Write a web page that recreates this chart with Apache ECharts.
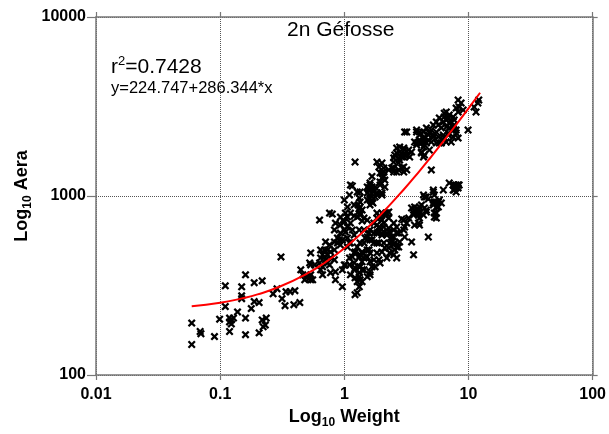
<!DOCTYPE html>
<html><head><meta charset="utf-8">
<script src="https://cdn.jsdelivr.net/npm/echarts@6/dist/echarts.min.js"></script>
<style>html,body{margin:0;padding:0;background:#fff}#c{width:609px;height:434px}</style>
</head><body><div id="c"></div>
<script>
// [weight, area] pairs
const leftTail = [[0.059,195],[0.059,148],[0.069,175],[0.070,170],[0.090,164],[0.099,205],[0.110,315],[0.110,241],[0.119,208],[0.123,203],[0.128,208],[0.119,198],[0.123,193],[0.119,175],[0.138,225],[0.149,311],[0.149,277],[0.149,267],[0.160,363],[0.160,208],[0.160,168],[0.178,235],[0.188,328],[0.218,336],[0.188,257],[0.206,254],[0.218,203],[0.231,190],[0.222,186],[0.235,208],[0.206,172],[0.267,284],[0.287,303],[0.309,457],[0.315,267],[0.333,244],[0.339,292],[0.365,292],[0.400,296],[0.392,247],[0.438,254],[0.446,387],[0.463,363],[0.480,340],[0.498,354],[0.536,363],[0.536,340],[0.536,481],[0.536,412],[0.577,412],[0.644,451],[0.668,402],[0.668,363],[0.760,412],[0.774,372],[0.848,340],[0.964,311],[1.00,412],[0.526,423],[0.632,423],[0.644,387],[0.526,349],[0.556,340]];
const midCluster = [[0.632,734],[0.848,706],[0.929,688],[1.00,716],[1.06,671],[1.12,706],[1.16,646],[1.02,629],[0.929,621],[0.880,583],[0.964,568],[1.06,583],[1.10,547],[0.929,533],[0.880,547],[0.832,554],[0.706,554],[0.760,533],[0.693,500],[0.644,500],[0.732,500],[0.774,487],[0.832,500],[0.668,469],[0.693,457],[0.706,440],[0.732,469],[0.774,451],[0.832,440],[1.22,281],[1.34,340],[1.27,332],[1.32,372],[1.39,387],[1.32,402],[1.39,429],[1.32,457],[1.39,481],[1.22,487],[1.16,457],[1.10,451],[1.20,423],[1.10,412],[1.20,387],[1.12,363],[1.22,349]];
const lowerBand = [[1.12,1152],[1.16,1137],[1.27,1053],[1.53,1123],[1.61,1152],[1.70,1080],[1.83,1013],[1.61,1013],[2.01,1040],[1.10,1013],[1.20,891],[1.34,926],[1.34,868],[1.29,891],[1.70,914],[0.80,793],[1.02,803],[1.06,763],[0.98,734],[1.20,773],[1.34,803],[1.44,753],[1.53,734],[1.83,803],[1.83,753],[2.01,803],[2.16,803],[2.01,734],[2.28,753],[1.73,706],[1.90,671],[2.08,706],[2.28,662],[1.83,621],[2.01,605],[2.20,621],[2.41,590],[2.50,646],[2.50,706],[2.64,671],[2.74,621],[2.32,547],[2.50,533],[2.64,519],[2.79,554],[2.55,500],[3.01,646],[3.06,590],[3.18,706],[2.90,744],[3.30,753],[3.48,857],[3.61,803],[3.82,814],[4.03,868],[3.68,868],[3.96,783],[4.42,987],[5.21,1053],[5.51,926],[5.82,950],[5.21,914],[5.72,868],[5.51,803],[5.51,753],[6.04,914],[4.58,835],[4.34,783],[6.27,1080],[7.00,1182],[7.67,1152],[7.95,1109],[8.25,1152],[7.53,1080],[4.75,590],[3.48,554],[3.61,469],[0.732,423],[0.848,377],[0.964,387],[1.02,412],[1.22,397],[1.32,354],[1.44,387],[1.53,457],[1.67,402],[1.90,440],[1.94,423],[1.61,363],[1.53,500],[0.832,646],[0.91,568],[1.00,646],[1.12,547],[1.20,605],[1.32,646],[1.44,646],[1.47,583],[1.61,568],[1.58,621],[1.73,547],[2.12,513],[2.01,487],[1.83,547],[1.34,547],[1.06,519],[1.20,481],[1.34,469],[1.61,481],[1.73,440],[0.76,803]];
const lowerBand2 = [[1.67,926],[1.61,891],[1.34,783],[2.20,803],[1.94,763],[3.68,835],[3.96,803],[3.61,783],[4.03,753],[3.96,706],[3.68,688],[4.18,891],[3.01,734],[3.06,671],[1.83,688],[1.94,662],[2.08,671],[1.90,629],[1.61,646],[1.73,621],[2.01,621],[2.20,605],[2.32,629],[2.50,590],[2.64,621],[2.41,554],[2.55,547],[2.74,519],[2.28,513],[2.32,481],[2.50,469],[2.20,451],[2.64,451],[2.08,547],[1.90,547],[1.67,568],[1.53,590],[1.44,547],[1.58,500],[1.83,481],[1.61,429],[1.77,402],[1.61,377],[1.53,354],[1.39,332],[1.32,311],[1.34,402],[1.44,451],[1.39,487],[1.27,519],[1.27,288],[7.53,1152],[7.95,1152],[8.25,1109],[7.67,1080],[7.95,1053],[8.41,1152],[5.31,1013],[4.34,1013],[4.58,987],[5.31,926],[5.72,926],[5.21,891],[5.51,868],[3.96,835],[4.03,803],[4.42,857],[4.58,814],[5.31,803],[5.31,763],[4.03,688],[5.02,1398],[1.00,950],[1.31,848],[1.39,835],[1.06,868],[1.12,803],[1.27,763],[0.93,763],[1.39,725],[2.28,814],[2.12,783],[5.21,1080],[4.75,962]];
const upperBand = [[3.06,2278],[3.82,2278],[4.03,2055],[4.34,2003],[3.82,1977],[4.34,1878],[4.42,2136],[4.03,2192],[2.79,1878],[3.06,1807],[3.18,1695],[3.01,1652],[2.64,1739],[2.50,1631],[2.79,1589],[3.30,1807],[3.48,1761],[3.36,1652],[2.74,1529],[2.64,1362],[2.50,1434],[3.01,1362],[3.18,1398],[1.83,1549],[2.01,1529],[1.90,1452],[2.08,1362],[1.94,1345],[2.01,1261],[1.94,1197],[1.61,1182],[1.67,1123],[1.58,1109],[1.73,1053],[1.53,950],[1.77,987],[1.34,1053],[1.32,974],[1.22,1549],[1.58,1080],[1.53,1040],[1.61,974],[1.77,1123],[1.83,1040],[1.67,1286],[1.94,1152],[2.01,1013],[2.12,1123],[2.64,1854],[2.79,1761],[3.01,1854],[2.55,1695],[2.74,1631],[2.50,1549],[2.90,1652],[3.06,1695],[2.28,1398],[2.41,1434],[2.50,1362],[2.74,1398],[2.90,1434],[3.01,1452],[2.08,1434],[2.01,1345],[2.08,1286],[2.12,1228]];
const upperTop = [[11.9,3308],[11.1,3143],[11.5,2946],[12.1,3439],[8.25,3439],[8.72,3308],[8.41,3143],[7.95,3100],[9.05,3023],[8.25,2946],[9.92,2337],[6.62,2946],[7.00,2836],[6.38,2764],[6.87,2729],[7.53,2764],[7.25,2592],[7.67,2493],[6.27,2592],[5.82,2729],[5.51,2592],[5.21,2493],[5.72,2493],[6.04,2399],[6.62,2430],[7.00,2399],[7.53,2337],[5.51,2278],[5.02,2337],[4.58,2399],[4.34,2278],[4.75,2192],[5.21,2192],[5.72,2136],[6.27,2192],[6.87,2192],[7.53,2136],[7.95,2249],[8.25,2108],[4.34,2108],[4.03,2003],[4.58,1977],[5.02,2003],[5.51,1977],[6.04,1977],[6.62,2003],[7.25,2003],[4.18,1761],[4.42,1695],[4.84,1807],[7.67,2659],[7.00,2559],[7.53,2430],[6.62,2659],[6.38,2900],[6.38,2108],[4.84,2249],[5.21,2136],[5.82,1977],[6.27,2055],[6.87,2249],[7.95,2337],[3.82,2337],[4.03,2278],[3.96,2003],[4.18,2003],[3.68,2003],[3.82,1927],[4.42,1927],[4.75,2055],[3.18,2278],[4.34,1652],[4.18,1739]];
// fitted curve
const fitWeight = [0.059,0.1,0.15,0.2,0.3,0.5,0.7,1,1.5,2,3,4,5,6,7,8,10,12.4];
const fitArea = [242,253,268,282,311,368,425,511,654,797,1084,1370,1656,1943,2229,2516,3088,3775];
const titleText = '2n Géfosse';
const r2Text = '0.7428';
const eqText = 'y=224.747+286.344*x';

const FF = '"Liberation Sans", Arial, sans-serif';
const chart = echarts.init(document.getElementById('c'));
const xMark = 'path://M0,2 L2,0 L5,3 L8,0 L10,2 L7,5 L10,8 L8,10 L5,7 L2,10 L0,8 L3,5 Z';
const allPts = [].concat(leftTail, midCluster, lowerBand, lowerBand2, upperBand, upperTop);
const fmt = v => String(+(+v).toPrecision(2));
const nameRich = {
  b: {fontSize: 18, fontWeight: 'bold', fontFamily: FF, color: '#000', fill: '#000', lineHeight: 24, verticalAlign: 'middle'},
  s: {fontSize: 12, fontWeight: 'bold', fontFamily: FF, color: '#000', fill: '#000', lineHeight: 24, verticalAlign: 'bottom'}
};
const axisCommon = {
  type: 'log', logBase: 10,
  axisLine: {show: true, onZero: false, lineStyle: {color: '#777', width: 1.5}},
  minorTick: {show: false}, minorSplitLine: {show: false}
};
chart.setOption({
  animation: false,
  backgroundColor: '#fff',
  grid: {left: 96, right: 11, top: 17, bottom: 59},
  xAxis: [
    Object.assign({}, axisCommon, {
      position: 'bottom', min: 0.01, max: 100,
      axisTick: {show: true, length: 5, lineStyle: {color: '#777', width: 1.2}},
      axisLabel: {color: '#000', fontSize: 16, fontWeight: 'bold', fontFamily: FF, margin: 12, formatter: fmt},
      splitLine: {show: true, lineStyle: {type: 'dotted', color: '#555', width: 1}},
      name: '{b|Log}{s|10}{b| Weight}', nameLocation: 'middle', nameGap: 28,
      nameTextStyle: {rich: nameRich}
    }),
    Object.assign({}, axisCommon, {
      position: 'top', min: 0.01, max: 100,
      axisTick: {show: true, length: 5, lineStyle: {color: '#777', width: 1.2}},
      axisLabel: {show: false}, splitLine: {show: false}
    })
  ],
  yAxis: [
    Object.assign({}, axisCommon, {
      position: 'left', min: 100, max: 10000,
      axisTick: {show: true, length: 9, lineStyle: {color: '#777', width: 1.2}},
      axisLabel: {color: '#000', fontSize: 16, fontWeight: 'bold', fontFamily: FF, margin: 10, formatter: fmt},
      splitLine: {show: true, lineStyle: {type: 'dotted', color: '#555', width: 1}}
    }),
    Object.assign({}, axisCommon, {
      position: 'right', min: 100, max: 10000,
      axisTick: {show: true, length: 5, lineStyle: {color: '#777', width: 1.2}},
      axisLabel: {show: false}, splitLine: {show: false}
    })
  ],
  graphic: [
    {type: 'text', x: 22, y: 196, rotation: Math.PI / 2, style: {
      text: '{b|Log}{s|10}{b| Aera}', rich: nameRich, align: 'center', verticalAlign: 'middle'
    }},
    {type: 'text', left: 287, top: 20, style: {text: titleText, font: '21px ' + FF, fill: '#000'}},
    {type: 'text', left: 111, top: 52, style: {
      text: '{a|r}{b|2}{a|=' + r2Text + '}',
      rich: {
        a: {fontSize: 21, fontFamily: FF, fill: '#000', lineHeight: 26, verticalAlign: 'bottom'},
        b: {fontSize: 13, fontFamily: FF, fill: '#000', lineHeight: 26, verticalAlign: 'top', padding: [3, 0, 0, 0]}
      }
    }},
    {type: 'text', left: 111, top: 80, style: {text: eqText, font: '16.5px ' + FF, fill: '#000'}}
  ],
  series: [
    {type: 'scatter', xAxisIndex: 0, yAxisIndex: 0, data: allPts, symbol: xMark, symbolSize: 8,
     itemStyle: {color: '#000', opacity: 1}, z: 3},
    {type: 'line', xAxisIndex: 0, yAxisIndex: 0, data: fitWeight.map((w, i) => [w, fitArea[i]]),
     showSymbol: false, smooth: true, lineStyle: {color: '#ff0000', width: 2}, z: 4}
  ]
});
</script></body></html>
